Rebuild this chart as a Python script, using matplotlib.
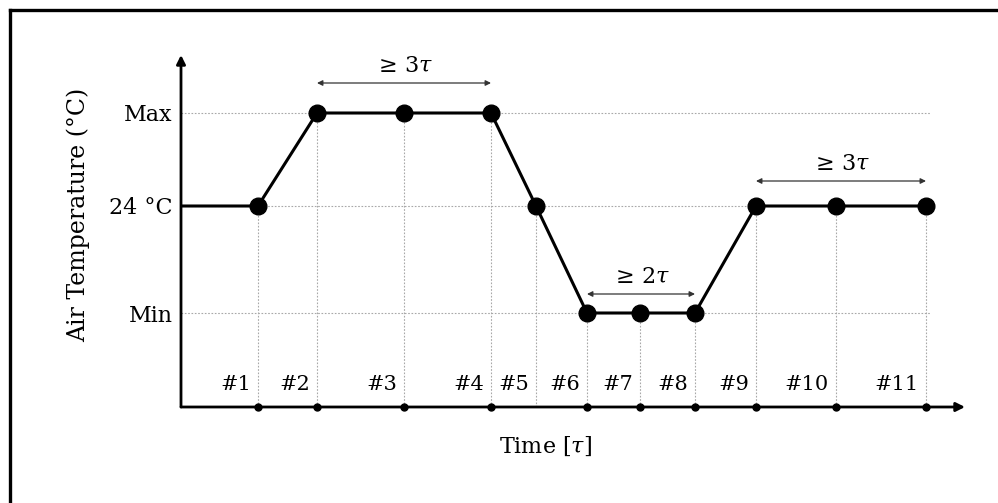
import matplotlib
matplotlib.use('Agg')
import matplotlib.pyplot as plt
from matplotlib.lines import Line2D

plt.rcParams['font.family'] = ['DejaVu Serif']
plt.rcParams['mathtext.fontset'] = 'dejavuserif'

# temperature levels (axis units)
level_names = ['Min', '24 °C', 'Max']
level_values = [0.94, 2.01, 2.94]

# measurement steps
step_labels = ['#1', '#2', '#3', '#4', '#5', '#6', '#7', '#8', '#9', '#10', '#11']
step_times = [0.77, 1.36, 2.23, 3.10, 3.55, 4.06, 4.59, 5.14, 5.75, 6.55, 7.45]
step_levels = ['24 °C', 'Max', 'Max', 'Max', '24 °C', 'Min', 'Min', 'Min', '24 °C', '24 °C', '24 °C']
axis_marked = [True, True, True, True, False, True, True, True, True, True, True]

start_time = 0.0
start_level = '24 °C'

# duration brackets: (first step, last step, text, height)
span_from = [1, 5, 8]
span_to = [3, 7, 10]
span_text = [r'$\geq\, 3\tau$', r'$\geq\, 2\tau$', r'$\geq\, 3\tau$']
span_height = [3.24, 1.13, 2.26]

grid_end = 7.49
x_max = 7.84
y_max = 3.52

level_of = dict(zip(level_names, level_values))
temps = [level_of[s] for s in step_levels]

fig = plt.figure(figsize=(9.98, 5.03), dpi=100)
ax = fig.add_axes([181/998, 96/503, 784/998, 352/503])
ax.set_xlim(0, x_max)
ax.set_ylim(0, y_max)
for s in ax.spines.values():
    s.set_visible(False)
ax.set_xticks([])
ax.set_yticks(level_values)
ax.set_yticklabels(level_names, fontsize=16)
ax.tick_params(axis='y', length=0, pad=6)

grid_kw = dict(color='#a8a8a8', lw=0.8, ls=(0, (1.5, 1.5)), zorder=1)
for v in level_values:
    ax.plot([0, grid_end], [v, v], **grid_kw)
for t, T in zip(step_times, temps):
    ax.plot([t, t], [0, T], **grid_kw)

# axes with arrows
ax.annotate('', xy=(x_max, 0), xytext=(0, 0), annotation_clip=False,
            arrowprops=dict(arrowstyle='-|>', lw=2, color='black', mutation_scale=13, shrinkA=0, shrinkB=0))
ax.annotate('', xy=(0, y_max), xytext=(0, 0), annotation_clip=False,
            arrowprops=dict(arrowstyle='-|>', lw=2, color='black', mutation_scale=13, shrinkA=0, shrinkB=0))

ax.plot([start_time] + step_times, [level_of[start_level]] + temps, color='black', lw=2.2, zorder=3)
ax.plot(step_times, temps, 'o', color='black', ms=12, zorder=4)
ax.plot([t for t, m in zip(step_times, axis_marked) if m], [0] * sum(axis_marked), 'o',
        color='black', ms=5, zorder=5, clip_on=False)

for t, lab in zip(step_times, step_labels):
    ax.annotate(lab, (t, 0.22), xytext=(-5, 0), textcoords='offset points',
                ha='right', va='center', fontsize=15)

for a, b, txt, h in zip(span_from, span_to, span_text, span_height):
    ax.annotate('', xy=(step_times[b], h), xytext=(step_times[a], h),
                arrowprops=dict(arrowstyle='<|-|>', lw=0.9, color='#333333', mutation_scale=8,
                                shrinkA=0, shrinkB=0))
    ax.annotate(txt, ((step_times[a] + step_times[b]) / 2, h), xytext=(0, 12),
                textcoords='offset points', ha='center', va='center', fontsize=16)

fig.text(546/998, 1 - 446/503, r'Time [$\tau$]', ha='center', va='center', fontsize=16)
fig.text(78/998, 1 - 215/503, 'Air Temperature (°C)', rotation=90, ha='center', va='center', fontsize=17)

# frame (top and left edges)
fig.add_artist(Line2D([10/998, 1], [1 - 10/503, 1 - 10/503], color='black', lw=2.4))
fig.add_artist(Line2D([10/998, 10/998], [0, 1 - 10/503], color='black', lw=2.4))

fig.savefig('out.png', dpi=100)
